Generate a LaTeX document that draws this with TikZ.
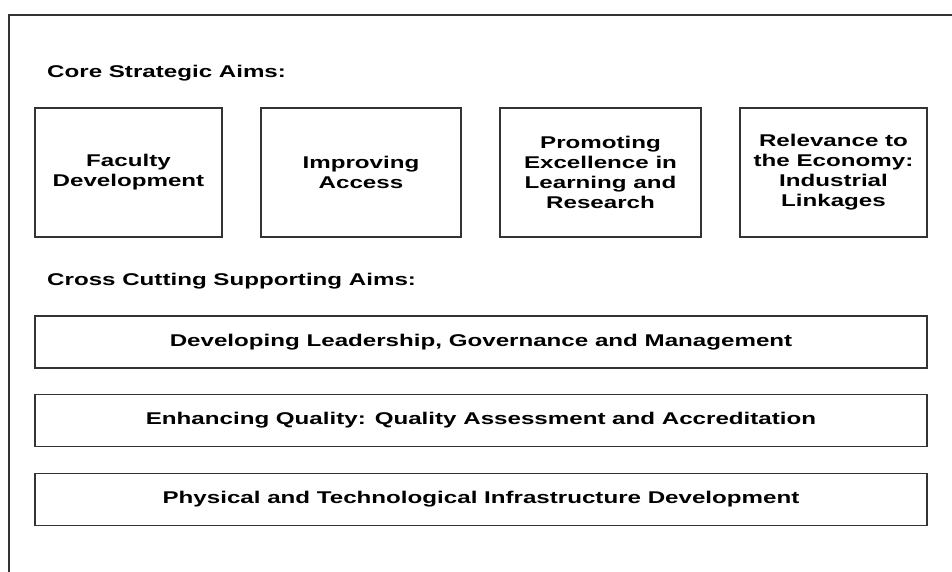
\documentclass[tikz,border=0pt]{standalone}
\usepackage{fontspec}
\setmainfont{Liberation Sans}[FakeStretch=1.42]
\begin{document}
\begin{tikzpicture}[x=1pt,y=-1pt,
  line/.style={draw=black!80,line width=1.3pt},
  aimbox/.style={line,minimum height=129pt,inner sep=0pt,align=center,
    font=\fontsize{17}{20}\selectfont\bfseries},
  widebox/.style={line,minimum width=892pt,minimum height=52pt,inner sep=0pt,
    font=\fontsize{17}{20}\selectfont\bfseries},
  heading/.style={anchor=base west,inner sep=0pt,font=\fontsize{17}{20}\selectfont\bfseries}]
\fill[white] (0,0) rectangle (952,572);
\useasboundingbox (0,0) rectangle (952,572);
\coordinate (tr) at (952,15);
\coordinate (tl) at (9,15);
\coordinate (bl) at (9,572);
\draw[line] (tr) -- (tl) -- (bl);
\node[heading] (core) at (47,78) {Core Strategic Aims:};
\node[aimbox,minimum width=187pt] (fac) at (128.5,172.5) {Faculty\\Development};
\node[aimbox,minimum width=200pt] (acc) at (361,172.5) {Improving\\Access};
\node[aimbox,minimum width=201pt] (exc) at (600.5,172.5) {Promoting\\Excellence in\\Learning and\\Research};
\node[aimbox,minimum width=187pt] (rel) at (833.5,172.5) {Relevance to\\the Economy:\\Industrial\\Linkages};
\node[heading] (cross) at (47,285) {Cross Cutting Supporting Aims:};
\node[widebox] (lead) at (481,342) {Developing Leadership, Governance and Management};
\node[widebox] (qual) at (481,420.5) {Enhancing Quality: Quality Assessment and Accreditation};
\node[widebox] (infra) at (481,499.5) {Physical and Technological Infrastructure Development};
\end{tikzpicture}
\end{document}
